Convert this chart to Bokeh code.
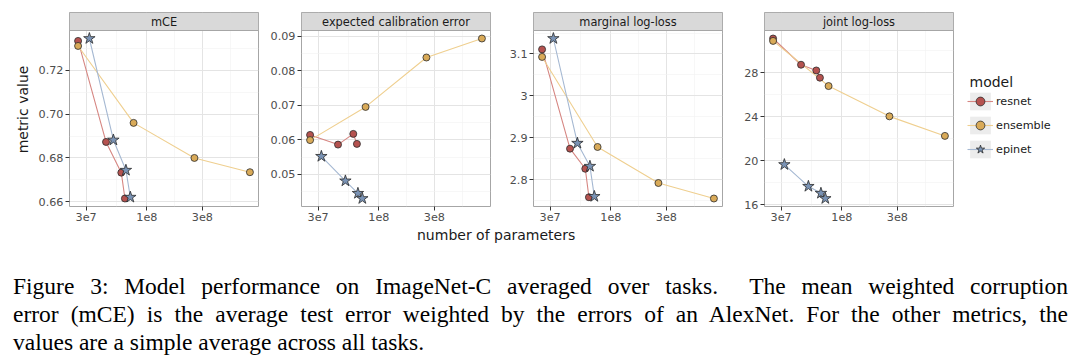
import numpy as np
from bokeh.plotting import figure
from bokeh.layouts import row, column
from bokeh.models import (Range1d, FixedTicker, CustomJSTickFormatter, Legend,
                          LegendItem, Div, Label)
from bokeh.core.properties import value
from bokeh.embed import file_html
from bokeh.resources import INLINE

# ---------------- data ----------------
models = ["resnet", "ensemble", "epinet"]
params_resnet = [25.6e6, 44.5e6, 60.2e6, 64.7e6]
params_ensemble = [25.6e6, 76.8e6, 256e6, 768e6]
params_epinet = [32.0e6, 51.5e6, 66.0e6, 72.0e6]

metrics = ["mCE", "expected calibration error", "marginal log-loss", "joint log-loss"]

mce_resnet = [0.7334, 0.6873, 0.6733, 0.6615]
mce_ensemble = [0.7311, 0.6960, 0.6800, 0.6735]
mce_epinet = [0.7345, 0.6882, 0.6744, 0.6621]

ece_resnet = [0.0614, 0.0586, 0.0617, 0.0588]
ece_ensemble = [0.0599, 0.0695, 0.0838, 0.0893]
ece_epinet = [0.0552, 0.0481, 0.0445, 0.0430]

mll_resnet = [3.111, 2.874, 2.826, 2.758]
mll_ensemble = [3.093, 2.878, 2.792, 2.755]
mll_epinet = [3.137, 2.887, 2.832, 2.760]

jll_resnet = [31.12, 28.73, 28.21, 27.55]
jll_ensemble = [30.90, 26.79, 24.03, 22.25]
jll_epinet = [19.64, 17.66, 17.03, 16.55]

x_ticks = [3e7, 1e8, 3e8]
x_tick_labels = ["3e7", "1e8", "3e8"]
x_minor = [5.48e7, 1.73e8, 5.2e8]

mce_ticks = [0.66, 0.68, 0.70, 0.72]
mce_labels = ["0.66", "0.68", "0.70", "0.72"]
mce_minor = [0.67, 0.69, 0.71, 0.73]
ece_ticks = [0.05, 0.06, 0.07, 0.08, 0.09]
ece_labels = ["0.05", "0.06", "0.07", "0.08", "0.09"]
ece_minor = [0.045, 0.055, 0.065, 0.075, 0.085]
mll_ticks = [2.8, 2.9, 3.0, 3.1]
mll_labels = ["2.8", "2.9", "3", "3.1"]
mll_minor = [2.75, 2.85, 2.95, 3.05, 3.15]
jll_ticks = [16, 20, 24, 28]
jll_labels = ["16", "20", "24", "28"]
jll_minor = [18, 22, 26, 30]

x_title = "number of parameters"
y_title = "metric value"
legend_title = "model"
caption_lines = [
    "Figure 3: Model performance on ImageNet-C averaged over tasks.&nbsp; The mean weighted corruption",
    "error (mCE) is the average test error weighted by the errors of an AlexNet. For the other metrics, the",
    "values are a simple average across all tasks.",
]

# ---------------- style ----------------
line_colors = {"resnet": "#d68682", "ensemble": "#efcf8f", "epinet": "#a5b8d2"}
fill_colors = {"resnet": "#b5524f", "ensemble": "#d9aa58", "epinet": "#7a93b5"}
markers = {"resnet": "circle", "ensemble": "circle", "epinet": "star"}
msizes = {"resnet": 7, "ensemble": 7, "epinet": 12}
SANS = "DejaVu Sans"
FIG_H = 227
TOP, BOT = 12, 21
STRIP_H = 18
PANEL_H = FIG_H - TOP - BOT - STRIP_H

params = {"resnet": params_resnet, "ensemble": params_ensemble, "epinet": params_epinet}


def make_formatter(tvals, tlabels):
    return CustomJSTickFormatter(args=dict(tvals=tvals, tlabels=tlabels), code="""
        for (let i = 0; i < tvals.length; i++) {
            if (Math.abs(tvals[i] - tick) <= 1e-9 * Math.abs(tvals[i])) return tlabels[i];
        }
        return '';
    """)


def make_panel(title, series, ticks, labels, minors, width, left, right, ylabel=None):
    xs_all = np.log10(params_resnet + params_ensemble + params_epinet)
    xlo, xhi = xs_all.min(), xs_all.max()
    xp = 0.05 * (xhi - xlo)
    x0, x1 = 10 ** (xlo - xp), 10 ** (xhi + xp)
    yall = np.array(sum(series.values(), []))
    ylo, yhi = yall.min(), yall.max()
    yp = 0.05 * (yhi - ylo)
    y0, y1 = ylo - yp, yhi + yp
    ytop = y1 + (y1 - y0) * STRIP_H / PANEL_H

    p = figure(width=width, height=FIG_H, x_axis_type="log",
               x_range=Range1d(x0, x1), y_range=Range1d(y0, ytop),
               output_backend="svg", toolbar_location=None, title=None,
               min_border_left=left, min_border_right=right,
               min_border_top=TOP, min_border_bottom=BOT)
    p.background_fill_color = "white"
    p.border_fill_color = "white"
    p.outline_line_color = "#a6a6a6"
    p.outline_line_width = 1

    p.xaxis.ticker = FixedTicker(ticks=x_ticks, minor_ticks=x_minor)
    p.xaxis.formatter = make_formatter(x_ticks, x_tick_labels)
    p.yaxis.ticker = FixedTicker(ticks=ticks, minor_ticks=minors)
    p.yaxis.formatter = make_formatter(ticks, labels)
    for ax in (p.xaxis, p.yaxis):
        ax.axis_line_color = None
        ax.major_tick_line_color = "#333333"
        ax.major_tick_out = 4
        ax.major_tick_in = 0
        ax.minor_tick_line_color = None
        ax.major_label_text_font = SANS
        ax.major_label_text_font_size = "11.2px"
        ax.major_label_text_color = "#4d4d4d"
        ax.major_label_standoff = 2
    if ylabel:
        p.yaxis.axis_label = ylabel
        p.yaxis.axis_label_text_font = SANS
        p.yaxis.axis_label_text_font_size = "14px"
        p.yaxis.axis_label_text_font_style = "normal"
        p.yaxis.axis_label_text_color = "#1a1a1a"
        p.yaxis.axis_label_standoff = 5

    for g in (p.xgrid, p.ygrid):
        g.grid_line_color = "#e4e4e4"
        g.grid_line_width = 1
        g.minor_grid_line_color = "#f2f2f2"
        g.minor_grid_line_width = 0.6

    # facet strip
    p.quad(left=[x0], right=[x1], bottom=[y1], top=[ytop],
           fill_color="#d9d9d9", line_color="#a6a6a6", line_width=1)
    p.text(x=[10 ** ((np.log10(x0) + np.log10(x1)) / 2)], y=[(y1 + ytop) / 2], text=[title],
           text_align="center", text_baseline="middle", text_font=value(SANS),
           text_font_size="11.4px", text_color="#1a1a1a")

    for m in models:
        p.line(params[m], series[m], line_color=line_colors[m], line_width=1.1)
    for m in models:
        p.scatter(params[m], series[m], marker=markers[m], size=msizes[m],
                  fill_color=fill_colors[m], line_color="#2b2b2b", line_width=0.8)
    return p


f1 = make_panel(metrics[0], {"resnet": mce_resnet, "ensemble": mce_ensemble, "epinet": mce_epinet},
                mce_ticks, mce_labels, mce_minor, 263, 69, 5, ylabel=y_title)
f2 = make_panel(metrics[1], {"resnet": ece_resnet, "ensemble": ece_ensemble, "epinet": ece_epinet},
                ece_ticks, ece_labels, ece_minor, 232, 38, 5)
f3 = make_panel(metrics[2], {"resnet": mll_resnet, "ensemble": mll_ensemble, "epinet": mll_epinet},
                mll_ticks, mll_labels, mll_minor, 232, 38, 5)
f4 = make_panel(metrics[3], {"resnet": jll_resnet, "ensemble": jll_ensemble, "epinet": jll_epinet},
                jll_ticks, jll_labels, jll_minor, 231, 37, 5)

# legend panel: proxy renderers carry the joint log-loss series, drawn outside the visible range
lf = figure(width=122, height=FIG_H, x_range=Range1d(0, 1), y_range=Range1d(0, 1),
            output_backend="svg", toolbar_location=None, title=None,
            x_axis_location=None, y_axis_location=None,
            min_border_left=0, min_border_right=0, min_border_top=0, min_border_bottom=0)
lf.outline_line_color = None
lf.grid.visible = False
jll = {"resnet": jll_resnet, "ensemble": jll_ensemble, "epinet": jll_epinet}
items = []
for m in models:
    bg = lf.quad(left=params[m], right=params[m], bottom=jll[m], top=jll[m],
                 fill_color="#ececec", line_color=None)
    ln = lf.line(params[m], jll[m], line_color=line_colors[m], line_width=1.1)
    pt = lf.scatter(params[m], jll[m], marker=markers[m], size=msizes[m],
                    fill_color=fill_colors[m], line_color="#2b2b2b", line_width=0.8)
    items.append(LegendItem(label=m, renderers=[bg, ln, pt]))
lg = Legend(items=items, location=(9, 46))
lg.label_text_font = SANS
lg.label_text_font_size = "11.2px"
lg.label_text_color = "#1a1a1a"
lg.glyph_width = 26
lg.glyph_height = 22
lg.label_height = 22
lg.spacing = 2
lg.label_standoff = 3
lg.padding = 0
lg.margin = 0
lg.border_line_color = None
lg.background_fill_alpha = 0
lf.add_layout(lg, "center")
lf.add_layout(Label(x=11, y=124.5, x_units="screen", y_units="screen", text=legend_title,
                    text_font=SANS, text_font_size="14px", text_color="#1a1a1a",
                    text_baseline="alphabetic", text_align="left"))

xlab = Div(text=(f'<div style="margin-left:417px;padding-top:0px;font-family:\'DejaVu Sans\';'
                 f'font-size:14px;line-height:16px;color:#1a1a1a;white-space:nowrap;">{x_title}</div>'),
           width=1080, height=44, margin=0)

cap_style = ("font-family:'Liberation Serif',serif;font-size:23.5px;line-height:28px;"
             "color:#000000;width:1055px;margin-left:13px;padding-top:1px;")
cap_html = f'<div style="{cap_style}">'
for i, ln in enumerate(caption_lines):
    if i < len(caption_lines) - 1:
        cap_html += f'<div style="text-align:justify;text-align-last:justify;white-space:nowrap;">{ln}</div>'
    else:
        cap_html += f'<div style="text-align:left;white-space:nowrap;">{ln}</div>'
cap_html += '</div>'
cap = Div(text=cap_html, width=1080, height=86, margin=0)

layout = column(row(f1, f2, f3, f4, lf), xlab, cap)

open("out.html", "w").write(file_html(layout, INLINE))
